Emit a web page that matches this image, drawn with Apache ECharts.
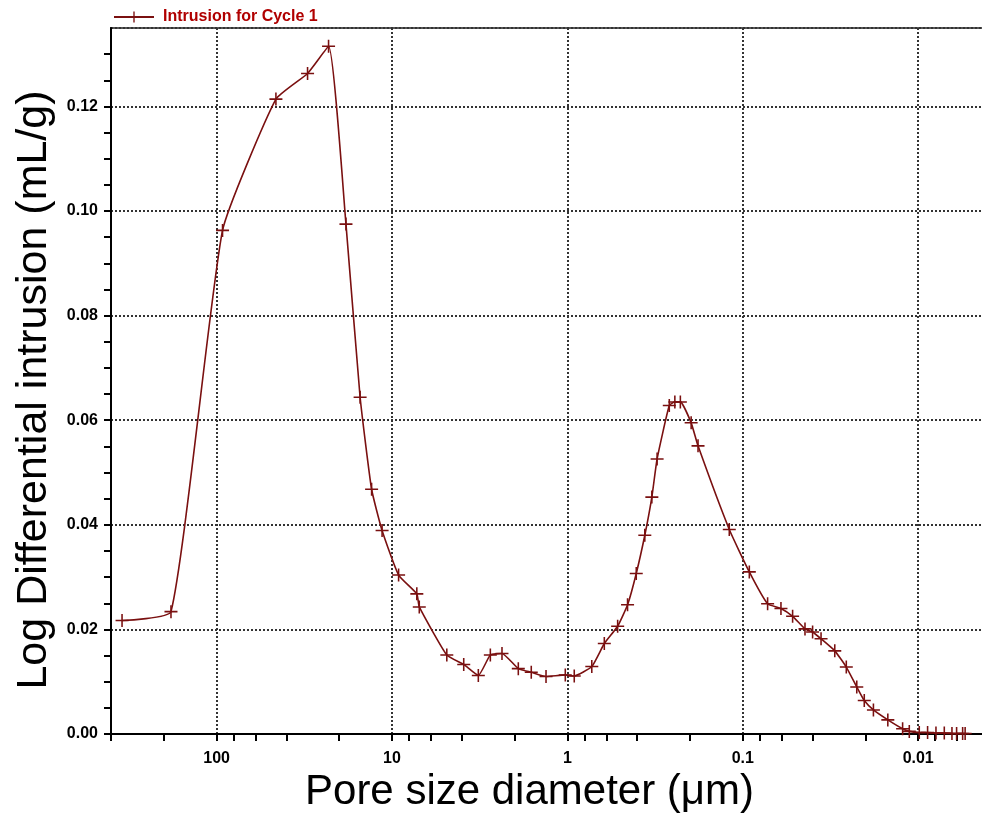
<!DOCTYPE html>
<html>
<head>
<meta charset="utf-8">
<script src="https://cdn.jsdelivr.net/npm/echarts@6/dist/echarts.min.js"></script>
<style>
  html, body { margin: 0; padding: 0; background: #fff; }
  #chart { width: 982px; height: 813px; }
</style>
</head>
<body>
<div id="chart"></div>
<script>
// pore diameter (µm)
var diameters = [346, 182, 92.5, 45.9, 30.3, 23.0, 18.3, 15.2, 13.07, 11.39,
  9.17, 7.22, 6.99, 4.87, 3.90, 3.22, 2.75, 2.36, 1.905, 1.607,
  1.324, 1.028, 0.914, 0.726, 0.616, 0.517, 0.454, 0.405, 0.362, 0.330,
  0.308, 0.2625, 0.244, 0.227, 0.197, 0.180, 0.1194, 0.0918, 0.0722, 0.0606,
  0.0520, 0.0442, 0.0400, 0.0358, 0.0299, 0.0257, 0.0224, 0.0203, 0.0180, 0.0149,
  0.01227, 0.01124, 0.00986, 0.00884, 0.00792, 0.00710, 0.00642, 0.00604, 0.00558, 0.00540];

// log differential intrusion (mL/g)
var intrusion = [0.0217, 0.0234, 0.0963, 0.1214, 0.1263, 0.1315, 0.0975, 0.0644, 0.0468, 0.0389,
  0.0304, 0.0268, 0.0243, 0.0151, 0.0133, 0.0112, 0.0151, 0.0154, 0.0125, 0.0118,
  0.0110, 0.0113, 0.0111, 0.0129, 0.0173, 0.0206, 0.0247, 0.0307, 0.0380, 0.0453,
  0.0526, 0.0628, 0.0635, 0.0635, 0.0595, 0.0551, 0.0391, 0.0310, 0.0249, 0.0240,
  0.0225, 0.0201, 0.0195, 0.0182, 0.0159, 0.0128, 0.0090, 0.0064, 0.0046, 0.0027,
  0.0010, 0.0005, 0.0003, 0.0003, 0.0002, 0.0002, 0.0001, 0.0001, 0.0001, 0.0001];

// axis ticks
var xLabelValues = [100, 10, 1, 0.1, 0.01];
var xTickValues = [400, 200, 100, 80, 60, 40, 20, 10, 8, 6, 4, 2, 1, 0.8, 0.6, 0.4, 0.2,
  0.1, 0.08, 0.06, 0.04, 0.02, 0.01, 0.008, 0.006, 0.004];
var yTickValues = [0, 0.005, 0.01, 0.015, 0.02, 0.025, 0.03, 0.035, 0.04, 0.045, 0.05, 0.055,
  0.06, 0.065, 0.07, 0.075, 0.08, 0.085, 0.09, 0.095, 0.1, 0.105, 0.11, 0.115, 0.12, 0.125, 0.13];

var seriesName = 'Intrusion for Cycle 1';
var FONT = '"Liberation Sans", Arial, sans-serif';

var chart = echarts.init(document.getElementById('chart'));

var points = diameters.map(function (d, i) { return [d, intrusion[i]]; });

var plusPath = 'path://M0,4.4H10V5.6H0Z M4.4,0H5.6V10H4.4Z';

var gridLine = {
  show: true,
  lineStyle: { color: '#333', width: 2, type: [2, 2] }
};

var option = {
  backgroundColor: '#fff',
  animation: false,
  legend: {
    data: [seriesName],
    left: 108,
    top: 4,
    itemWidth: 40,
    itemHeight: 14,
    textStyle: {
      color: '#b00000', fontSize: 16, fontWeight: 'bold', fontFamily: FONT,
      padding: [0, 0, 0, 4]
    }
  },
  grid: {
    left: 111,
    width: 877,
    top: 28,
    bottom: 79,
    outerBoundsMode: 'none',
    containLabel: false,
    show: true,
    borderColor: '#555',
    borderWidth: 2
  },
  xAxis: [
    {
      type: 'log',
      logBase: 10,
      inverse: true,
      min: 0.004,
      max: 400,
      name: 'Pore size diameter (μm)',
      nameLocation: 'middle',
      nameGap: 30,
      nameTextStyle: {
        color: '#000', fontSize: 42, fontFamily: FONT, verticalAlign: 'top',
        padding: [0, 40, 0, 0]
      },
      axisLine: { show: true, lineStyle: { color: '#000', width: 2 } },
      axisTick: { show: false },
      axisLabel: {
        color: '#000',
        fontSize: 16,
        fontWeight: 'bold',
        fontFamily: FONT,
        margin: 17,
        formatter: function (v) {
          for (var i = 0; i < xLabelValues.length; i++) {
            if (Math.abs(v - xLabelValues[i]) / xLabelValues[i] < 1e-6) return String(xLabelValues[i]);
          }
          return '';
        }
      },
      splitLine: gridLine
    },
    {
      type: 'log',
      logBase: 10,
      inverse: true,
      min: 0.004,
      max: 400,
      position: 'bottom',
      axisLine: { show: false },
      axisLabel: { show: false },
      splitLine: { show: false },
      axisTick: {
        show: true,
        length: 7,
        customValues: xTickValues,
        lineStyle: { color: '#000', width: 2 }
      }
    }
  ],
  yAxis: [
    {
      type: 'value',
      min: 0,
      max: 0.135,
      interval: 0.02,
      name: 'Log Differential intrusion (mL/g)',
      nameLocation: 'middle',
      nameGap: 52,
      nameTextStyle: {
        color: '#000', fontSize: 43, fontFamily: FONT,
        padding: [0, 18, 0, 0]
      },
      axisLine: { show: true, lineStyle: { color: '#000', width: 2 } },
      axisTick: { show: false },
      axisLabel: {
        color: '#000',
        fontSize: 16,
        fontWeight: 'bold',
        fontFamily: FONT,
        margin: 13,
        showMaxLabel: false,
        formatter: function (v) {
          var k = Math.round(v / 0.02);
          if (Math.abs(v - k * 0.02) > 1e-6) return '';
          return v.toFixed(2);
        }
      },
      splitLine: gridLine
    },
    {
      type: 'value',
      min: 0,
      max: 0.135,
      position: 'left',
      axisLine: { show: false },
      axisLabel: { show: false },
      splitLine: { show: false },
      axisTick: {
        show: true,
        length: 7,
        customValues: yTickValues,
        lineStyle: { color: '#000', width: 2 }
      }
    }
  ],
  series: [
    {
      name: seriesName,
      type: 'line',
      xAxisIndex: 0,
      yAxisIndex: 0,
      data: points,
      smooth: 0.15,
      symbol: plusPath,
      symbolSize: 13,
      lineStyle: { color: '#7a1010', width: 1.6 },
      itemStyle: { color: '#7a1010' }
    }
  ]
};

chart.setOption(option);
</script>
</body>
</html>
